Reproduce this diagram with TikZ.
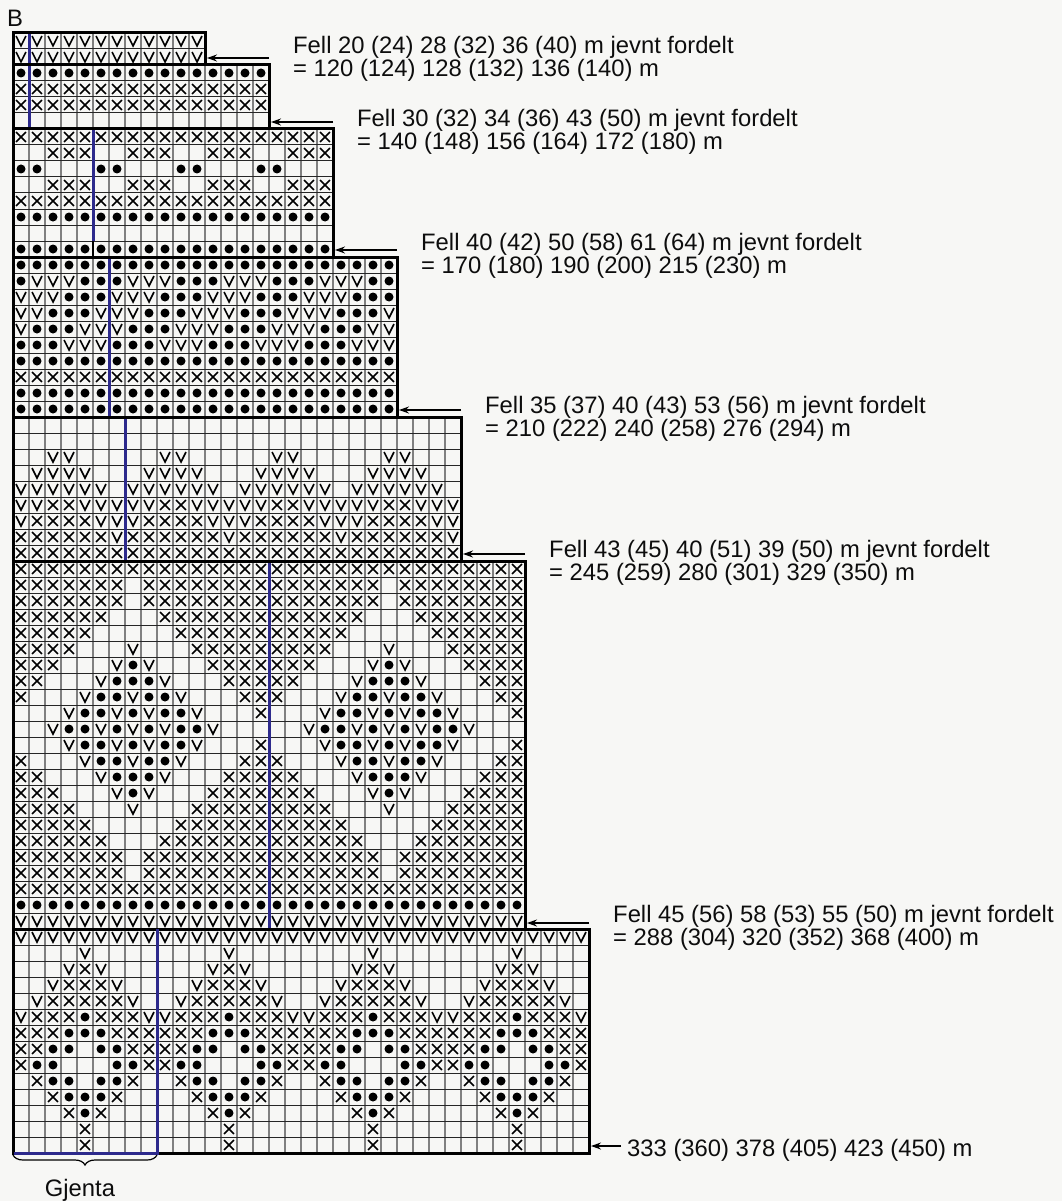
\documentclass[tikz,border=0pt]{standalone}
\usepackage{fontspec}
\setmainfont{Liberation Sans}
\usetikzlibrary{arrows.meta,decorations.pathreplacing}
\definecolor{bgc}{RGB}{247,247,245}
\definecolor{repc}{RGB}{45,42,140}
\makeatletter
\newcount\symcol
\def\symy{0}
\def\symrow#1#2{\def\symy{#1}\global\symcol=0 \sym@parse#2\@nil}
\def\sym@parse#1{\ifx#1\@nil\else\csname sym@#1\endcsname\global\advance\symcol by 1\relax\expandafter\sym@parse\fi}
\def\sym@V{\draw[symst] (\the\symcol+0.19,\symy+0.19) -- (\the\symcol+0.5,\symy+0.81) -- (\the\symcol+0.81,\symy+0.19);}
\def\sym@X{\draw[symst] (\the\symcol+0.19,\symy+0.19) -- (\the\symcol+0.81,\symy+0.81) (\the\symcol+0.81,\symy+0.19) -- (\the\symcol+0.19,\symy+0.81);}
\def\sym@o{\fill (\the\symcol+0.5,\symy+0.5) circle[radius=4.5pt];}
\expandafter\def\csname sym@-\endcsname{}
\def\symrep#1#2#3{\def\sym@str{}\@tempcnta=0 \loop\ifnum\@tempcnta<#3 \edef\sym@str{\sym@str#2}\advance\@tempcnta by 1 \repeat\edef\sym@tmp{\noexpand\symrow{#1}{\sym@str}}\sym@tmp}
\makeatother
\newcommand\chartsec[3]{%
  \pgfmathtruncatemacro\secnm{#1-1}%
  \foreach \c in {1,...,\secnm} \draw[vgrid] (\c,#2) -- (\c,#3);%
  \pgfmathtruncatemacro\secra{#2+1}\pgfmathtruncatemacro\secrb{#3-1}%
  \foreach \r in {\secra,...,\secrb} \draw[hgrid] (0,\r) -- (#1,\r);%
}
\begin{document}
\begin{tikzpicture}[x=1pt,y=-1pt,
  symst/.style={line width=1.6pt, line cap=butt, line join=miter},
  vgrid/.style={line width=1.1pt, draw=black!50},
  hgrid/.style={line width=1pt, draw=black!85},
  border/.style={line width=3pt, line join=miter},
  repline/.style={line width=3pt, draw=repc},
  fellarrow/.style={-{Stealth[length=10pt,width=7pt]}, line width=1.3pt},
  lbl/.style={anchor=base west, inner sep=0pt, font=\fontsize{23.8}{26}\selectfont, text=black!95}]
\fill[bgc] (0,0) rectangle (1062,1201);
\useasboundingbox (0,0) rectangle (1062,1201);
\begin{scope}[shift={(13,33)}, x=16pt, y=-16pt]
  % grids
  \chartsec{12}{0}{2}
  \chartsec{16}{2}{6}
  \chartsec{20}{6}{14}
  \chartsec{24}{14}{24}
  \chartsec{28}{24}{33}
  \chartsec{32}{33}{56}
  \chartsec{36}{56}{70}
  % section 1
  \symrep{0}{V}{12}
  \symrep{1}{V}{12}
  % section 2
  \symrep{2}{o}{16}
  \symrep{3}{X}{16}
  \symrep{4}{X}{16}
  % section 3
  \symrep{6}{X}{20}
  \symrep{7}{--XXX}{4}
  \symrep{8}{oo---}{4}
  \symrep{9}{--XXX}{4}
  \symrep{10}{X}{20}
  \symrep{11}{o}{20}
  \symrep{13}{o}{20}
  % section 4
  \symrep{14}{o}{24}
  \symrep{15}{oVVVoo}{4}
  \symrep{16}{VVVooo}{4}
  \symrep{17}{VVoooV}{4}
  \symrep{18}{VoooVV}{4}
  \symrep{19}{oooVVV}{4}
  \symrep{20}{o}{24}
  \symrep{21}{X}{24}
  \symrep{22}{o}{24}
  \symrep{23}{o}{24}
  % section 5
  \symrep{26}{--VV---}{4}
  \symrep{27}{-VVVV--}{4}
  \symrep{28}{VVVVVV-}{4}
  \symrep{29}{VVXXVVV}{4}
  \symrep{30}{VXXXXVV}{4}
  \symrep{31}{XXXXXXV}{4}
  \symrep{32}{X}{28}
  % section 6
  \symrep{33}{X}{32}
  \symrep{34}{XXXXXXX-XXXXXXXX}{2}
  \symrep{35}{XXXXXXX-XXXXXXXX}{2}
  \symrep{36}{XXXXXX---XXXXXXX}{2}
  \symrep{37}{XXXXX-----XXXXXX}{2}
  \symrep{38}{XXXX---V---XXXXX}{2}
  \symrep{39}{XXX---VoV---XXXX}{2}
  \symrep{40}{XX---VoooV---XXX}{2}
  \symrep{41}{X---VooVooV---XX}{2}
  \symrep{42}{---VooVoVooV---X}{2}
  \symrep{43}{--VooVoVoVooV---}{2}
  \symrep{44}{---VooVoVooV---X}{2}
  \symrep{45}{X---VooVooV---XX}{2}
  \symrep{46}{XX---VoooV---XXX}{2}
  \symrep{47}{XXX---VoV---XXXX}{2}
  \symrep{48}{XXXX---V---XXXXX}{2}
  \symrep{49}{XXXXX-----XXXXXX}{2}
  \symrep{50}{XXXXXX---XXXXXXX}{2}
  \symrep{51}{XXXXXXX-XXXXXXXX}{2}
  \symrep{52}{XXXXXXX-XXXXXXXX}{2}
  \symrep{53}{X}{32}
  \symrep{54}{o}{32}
  \symrep{55}{V}{32}
  % section 7
  \symrep{56}{V}{36}
  \symrep{57}{----V----}{4}
  \symrep{58}{---VXV---}{4}
  \symrep{59}{--VXXXV--}{4}
  \symrep{60}{-VXXXXXV-}{4}
  \symrep{61}{VXXXoXXXV}{4}
  \symrep{62}{XXXoooXXX}{4}
  \symrep{63}{XXoo-ooXX}{4}
  \symrep{64}{Xoo---ooX}{4}
  \symrep{65}{-Xoo-ooX-}{4}
  \symrep{66}{--XoooX--}{4}
  \symrep{67}{---XoX---}{4}
  \symrep{68}{----X----}{4}
  \symrep{69}{----X----}{4}
  % repeat lines
  \draw[repline] (1,0) -- (1,6);
  \draw[repline] (5,6) -- (5,13);
  \draw[line width=2pt] (5,13) -- (5,14);
  \draw[repline] (6,14) -- (6,24);
  \draw[repline] (7,24) -- (7,33);
  \draw[repline] (16,33) -- (16,56);
  % borders
  \draw[border] (0,0) rectangle (12,2);
  \draw[border] (0,2) rectangle (16,6);
  \draw[border] (0,6) rectangle (20,14);
  \draw[border] (0,14) rectangle (24,24);
  \draw[border] (0,24) rectangle (28,33);
  \draw[border] (0,33) rectangle (32,56);
  \draw[border] (0,56) rectangle (36,70);
  \draw[repline] (9,56) -- (9,70) -- (0.05,70);
\end{scope}
% arrows
\coordinate (a1s) at (269,58);  \coordinate (a1e) at (207,58);
\coordinate (a2s) at (333,122); \coordinate (a2e) at (271,122);
\coordinate (a3s) at (397,250); \coordinate (a3e) at (335,250);
\coordinate (a4s) at (461,410); \coordinate (a4e) at (399,410);
\coordinate (a5s) at (525,554); \coordinate (a5e) at (463,554);
\coordinate (a6s) at (589,923); \coordinate (a6e) at (527,923);
\coordinate (a7s) at (621,1146); \coordinate (a7e) at (591,1146);
\foreach \k in {1,...,7} \draw[fellarrow] (a\k s) -- (a\k e);
% labels
\node[lbl] (l1a) at (293,54) {Fell 20 (24) 28 (32) 36 (40) m jevnt fordelt};
\node[lbl] (l1b) at (293,77) {= 120 (124) 128 (132) 136 (140) m};
\node[lbl] (l2a) at (357,127) {Fell 30 (32) 34 (36) 43 (50) m jevnt fordelt};
\node[lbl] (l2b) at (357,150) {= 140 (148) 156 (164) 172 (180) m};
\node[lbl] (l3a) at (421,250) {Fell 40 (42) 50 (58) 61 (64) m jevnt fordelt};
\node[lbl] (l3b) at (421,273) {= 170 (180) 190 (200) 215 (230) m};
\node[lbl] (l4a) at (485,413) {Fell 35 (37) 40 (43) 53 (56) m jevnt fordelt};
\node[lbl] (l4b) at (485,436) {= 210 (222) 240 (258) 276 (294) m};
\node[lbl] (l5a) at (549,557) {Fell 43 (45) 40 (51) 39 (50) m jevnt fordelt};
\node[lbl] (l5b) at (549,580) {= 245 (259) 280 (301) 329 (350) m};
\node[lbl] (l6a) at (613,922) {Fell 45 (56) 58 (53) 55 (50) m jevnt fordelt};
\node[lbl] (l6b) at (613,945) {= 288 (304) 320 (352) 368 (400) m};
\node[lbl] (l7) at (627,1156) {333 (360) 378 (405) 423 (450) m};
\node[lbl] (title) at (7,27) {B};
% brace
\draw[line width=1.2pt, decorate, decoration={brace, amplitude=10pt}] (157,1155) -- (13,1155);
\node[lbl, anchor=base] (gjenta) at (80,1196) {Gjenta};
\end{tikzpicture}
\end{document}
